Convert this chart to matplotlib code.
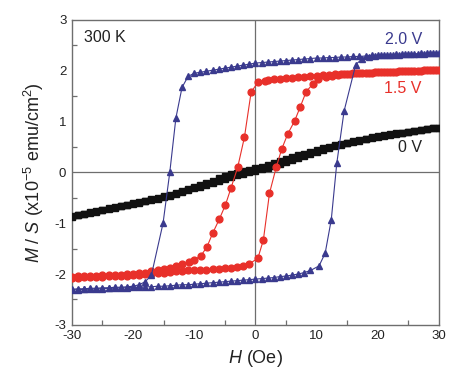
import matplotlib
matplotlib.use("Agg")
import matplotlib.pyplot as plt
from matplotlib.ticker import MultipleLocator

plt.rcParams['font.family'] = ['Liberation Sans', 'DejaVu Sans']
plt.rcParams['mathtext.fontset'] = 'custom'
plt.rcParams['mathtext.rm'] = 'Liberation Sans'
plt.rcParams['mathtext.it'] = 'Liberation Sans:italic'
plt.rcParams['axes.unicode_minus'] = False

# 0 V : field sweep down (+30 -> -30) and up (-30 -> +30)
h_0v_down = [30, 29, 28, 27, 26, 25, 24, 23, 22, 21, 20, 19, 18, 17, 16, 15, 14, 13, 12, 11,
             10, 9, 8, 7, 6, 5, 4, 3, 2, 1, 0, -1, -2, -3, -4, -5, -6, -7, -8, -9,
             -10, -11, -12, -13, -14, -15, -16, -17, -18, -19, -20, -21, -22, -23, -24, -25,
             -26, -27, -28, -29, -30]
m_0v_down = [0.88, 0.865, 0.85, 0.835, 0.82, 0.80, 0.78, 0.765, 0.75, 0.73, 0.71, 0.69, 0.665,
             0.64, 0.615, 0.585, 0.555, 0.53, 0.50, 0.47, 0.44, 0.405, 0.37, 0.335, 0.30, 0.26,
             0.22, 0.185, 0.15, 0.115, 0.08, 0.05, 0.02, -0.01, -0.04, -0.08, -0.12, -0.16, -0.20,
             -0.24, -0.28, -0.32, -0.36, -0.40, -0.44, -0.47, -0.50, -0.53, -0.56, -0.585, -0.61,
             -0.635, -0.66, -0.685, -0.71, -0.735, -0.76, -0.785, -0.81, -0.835, -0.86]
h_0v_up = [-30, -29, -28, -27, -26, -25, -24, -23, -22, -21, -20, -19, -18, -17, -16, -15, -14,
           -13, -12, -11, -10, -9, -8, -7, -6, -5, -4, -3, -2, -1, 0, 1, 2, 3, 4, 5, 6, 7, 8, 9,
           10, 11, 12, 13, 14, 15, 16, 17, 18, 19, 20, 21, 22, 23, 24, 25, 26, 27, 28, 29, 30]
m_0v_up = [-0.87, -0.845, -0.82, -0.795, -0.77, -0.745, -0.72, -0.695, -0.67, -0.645, -0.62,
           -0.595, -0.57, -0.545, -0.515, -0.485, -0.455, -0.42, -0.385, -0.35, -0.315, -0.28,
           -0.245, -0.21, -0.17, -0.13, -0.095, -0.06, -0.03, 0.0, 0.03, 0.06, 0.095, 0.13, 0.17,
           0.21, 0.25, 0.29, 0.33, 0.37, 0.41, 0.445, 0.48, 0.51, 0.54, 0.57, 0.60, 0.625, 0.65,
           0.675, 0.70, 0.72, 0.74, 0.76, 0.78, 0.80, 0.82, 0.835, 0.85, 0.865, 0.88]

# 1.5 V
h_15v_down = [30, 29, 28, 27, 26, 25, 24, 23, 22, 21, 20, 19, 18, 17, 16, 15, 14, 13, 12, 11,
              10, 9, 8, 7, 6, 5, 4, 3, 2, 1.5, 0.4, -0.7, -1.8, -2.9, -4.0, -4.9, -5.9, -7.0,
              -7.9, -8.9, -10.0, -10.9, -12, -13, -14, -15, -16, -17, -18, -19, -20, -21, -22,
              -23, -24, -25, -26, -27, -28, -29, -30]
m_15v_down = [2.02, 2.01, 2.01, 2.00, 2.00, 1.99, 1.99, 1.98, 1.98, 1.97, 1.97, 1.96, 1.96, 1.95,
              1.95, 1.94, 1.93, 1.93, 1.92, 1.91, 1.90, 1.89, 1.88, 1.87, 1.86, 1.85, 1.84, 1.83,
              1.81, 1.80, 1.77, 1.58, 0.69, 0.10, -0.31, -0.64, -0.92, -1.20, -1.46, -1.64, -1.72,
              -1.76, -1.81, -1.85, -1.88, -1.91, -1.93, -1.95, -1.97, -1.98, -1.99, -2.00, -2.01,
              -2.01, -2.02, -2.02, -2.03, -2.03, -2.04, -2.04, -2.05]
h_15v_up = [-30, -29, -28, -27, -26, -25, -24, -23, -22, -21, -20, -19, -18, -17, -16, -15, -14,
            -13, -12, -11, -10, -9, -8, -7, -6, -5, -4, -3, -2, -1, 0.4, 1.3, 2.3, 3.4, 4.3, 5.3,
            6.4, 7.3, 8.3, 9.4, 10.3, 11.5, 12.5, 13.5, 14.5, 15.5, 16.5, 17.5, 18.5, 19.5, 20.5,
            21.5, 22.5, 23.5, 24.5, 25.5, 26.5, 27.5, 28.5, 29.5]
m_15v_up = [-2.07, -2.07, -2.06, -2.06, -2.05, -2.05, -2.04, -2.04, -2.03, -2.03, -2.02, -2.01,
            -2.00, -1.99, -1.98, -1.97, -1.96, -1.95, -1.94, -1.93, -1.93, -1.92, -1.92, -1.91,
            -1.90, -1.89, -1.88, -1.86, -1.84, -1.80, -1.69, -1.33, -0.41, 0.10, 0.46, 0.76, 1.01,
            1.28, 1.59, 1.74, 1.83, 1.87, 1.90, 1.92, 1.93, 1.94, 1.95, 1.96, 1.96, 1.97, 1.97,
            1.98, 1.98, 1.99, 1.99, 2.00, 2.00, 2.01, 2.01, 2.02]

# 2.0 V
h_20v_down = [30, 29, 28, 27, 26, 25, 24, 23, 22, 21, 20, 19, 18, 17, 16, 15, 14, 13, 12, 11,
              10, 9, 8, 7, 6, 5, 4, 3, 2, 1, 0, -1, -2, -3, -4, -5, -6, -7, -8, -9, -10, -11,
              -12, -13, -14.0, -15.1, -17.0, -18.0, -19, -20, -21, -22, -23, -24, -25, -26, -27,
              -28, -29, -30]
m_20v_down = [2.35, 2.35, 2.34, 2.34, 2.33, 2.33, 2.32, 2.32, 2.31, 2.31, 2.30, 2.30, 2.29, 2.28,
              2.28, 2.27, 2.27, 2.26, 2.26, 2.25, 2.25, 2.24, 2.23, 2.22, 2.21, 2.20, 2.19, 2.18,
              2.17, 2.16, 2.15, 2.13, 2.11, 2.09, 2.07, 2.05, 2.03, 2.01, 1.99, 1.97, 1.95, 1.89,
              1.67, 1.07, 0.0, -1.0, -2.02, -2.15, -2.21, -2.24, -2.25, -2.26, -2.26, -2.27, -2.27,
              -2.28, -2.28, -2.29, -2.29, -2.30]
h_20v_up = [-30, -29, -28, -27, -26, -25, -24, -23, -22, -21, -20, -19, -18, -17, -16, -15, -14,
            -13, -12, -11, -10, -9, -8, -7, -6, -5, -4, -3, -2, -1, 0, 1, 2, 3, 4, 5, 6, 7, 8, 9,
            10.4, 11.4, 12.4, 13.3, 14.5, 16.4, 17.5, 18.5, 19.5, 20.5, 21.5, 22.5, 23.5, 24.5,
            25.5, 26.5, 27.5, 28.5, 29.5]
m_20v_up = [-2.31, -2.31, -2.30, -2.30, -2.29, -2.29, -2.28, -2.28, -2.27, -2.27, -2.26, -2.26,
            -2.25, -2.25, -2.24, -2.24, -2.23, -2.22, -2.21, -2.21, -2.20, -2.19, -2.18, -2.17,
            -2.16, -2.15, -2.14, -2.13, -2.12, -2.11, -2.10, -2.09, -2.08, -2.07, -2.05, -2.04,
            -2.02, -2.00, -1.97, -1.93, -1.84, -1.59, -0.93, 0.18, 1.21, 2.12, 2.24, 2.27, 2.29,
            2.30, 2.30, 2.31, 2.31, 2.32, 2.32, 2.33, 2.33, 2.34, 2.34]

black = '#111111'
red = '#E8302A'
blue = '#3A3A8E'
grey = '#6E6E6E'

fig = plt.figure(figsize=(4.73, 3.90), dpi=100)
ax = fig.add_axes([0.152, 0.167, 0.776, 0.782])

ax.axhline(0, color=grey, lw=0.9, zorder=1)
ax.axvline(0, color=grey, lw=0.9, zorder=1)

# 0 V
ax.plot(h_0v_down, m_0v_down, ls='--', color=black, lw=0.7, marker='s', ms=4.6, zorder=3)
ax.plot(h_0v_up, m_0v_up, ls='--', color=black, lw=0.7, marker='s', ms=4.6, zorder=3)
# 1.5 V
ax.plot(h_15v_down, m_15v_down, color=red, lw=0.8, marker='o', ms=4.9, zorder=4)
ax.plot(h_15v_up, m_15v_up, color=red, lw=0.8, marker='o', ms=4.9, zorder=4)
# 2.0 V
ax.plot(h_20v_down, m_20v_down, color=blue, lw=0.8, marker='^', ms=4.8, zorder=5)
ax.plot(h_20v_up, m_20v_up, color=blue, lw=0.8, marker='^', ms=4.8, zorder=5)

ax.set_xlim(-30, 30)
ax.set_ylim(-3, 3)
ax.xaxis.set_major_locator(MultipleLocator(10))
ax.xaxis.set_minor_locator(MultipleLocator(5))
ax.yaxis.set_major_locator(MultipleLocator(1))
ax.yaxis.set_minor_locator(MultipleLocator(0.5))
ax.tick_params(which='major', direction='in', length=0, labelsize=9.5, pad=4,
               labelcolor='#222222')
ax.tick_params(which='minor', direction='in', length=3.5, width=0.9, color=grey)
for s in ax.spines.values():
    s.set_color(grey)
    s.set_linewidth(1.0)

ax.text(-28.0, 2.8, '300 K', fontsize=11.5, color='#222222', va='top', ha='left')
ax.text(27.2, 2.61, '2.0 V', fontsize=11.5, color=blue, ha='right', va='center')
ax.text(27.2, 1.66, '1.5 V', fontsize=11.5, color=red, ha='right', va='center')
ax.text(27.2, 0.49, '0 V', fontsize=11.5, color='#222222', ha='right', va='center')

ax.set_xlabel(r'$H$ (Oe)', fontsize=13, color='#222222', labelpad=4)
ax.set_ylabel(r'$M$ / $S$ (x10$^{-5}$ emu/cm$^{2}$)', fontsize=13, color='#222222', labelpad=6)

fig.savefig('out.png', dpi=100)
